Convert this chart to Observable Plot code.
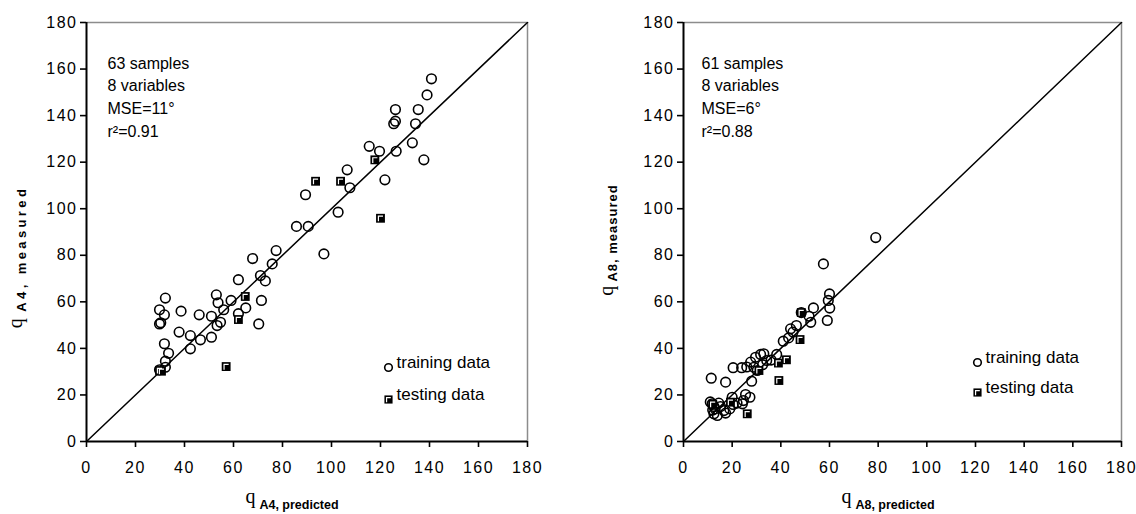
<!DOCTYPE html>
<html>
<head>
<meta charset="utf-8">
<script src="https://cdn.jsdelivr.net/npm/d3@7"></script>
<script src="https://cdn.jsdelivr.net/npm/@observablehq/plot@0.6"></script>
<style>
  html, body { margin: 0; padding: 0; background: #fff; }
  #wrap { display: flex; flex-direction: row; width: 1136px; height: 514px; }
  svg { overflow: visible; }
  svg text { font-family: "Liberation Sans", Arial, sans-serif; fill: #000; }
  g[aria-label="x-axis tick label"] text, g[aria-label="y-axis tick label"] text { letter-spacing: 1.5px; }
  g[aria-label="annotation"] text { letter-spacing: 1.2px; }
  g[aria-label="legend-text"] text { letter-spacing: 0.8px; }
</style>
</head>
<body>
<div id="wrap"></div>
<script>
// ---- data ----
const xTicks = [0, 20, 40, 60, 80, 100, 120, 140, 160, 180];
const yTicks = [0, 20, 40, 60, 80, 100, 120, 140, 160, 180];
const identityLine = [0, 180];

// Left panel (A4): training data
const a4TrainPred = [32.2, 29.8, 31.8, 29.8, 30.3, 38.6, 46.0, 37.8, 42.4, 42.4, 46.5, 51.0, 51.0, 53.0, 53.7, 56.0, 53.3, 54.7, 59.0, 62.0, 62.0, 65.0, 71.0, 73.0, 71.4, 70.3, 31.8, 33.5, 32.2, 32.2, 29.8, 67.8, 75.8, 77.4, 96.9, 85.7, 90.5, 89.4, 102.7, 107.5, 121.8, 106.4, 115.4, 119.6, 126.4, 133.0, 137.7, 126.1, 125.4, 134.3, 126.1, 135.4, 139.0, 140.8];
const a4TrainMeas = [61.6, 56.6, 54.4, 50.5, 51.0, 56.0, 54.4, 47.0, 45.5, 39.8, 43.7, 44.8, 53.8, 63.0, 59.6, 56.6, 49.8, 51.2, 60.6, 69.5, 54.9, 57.4, 71.3, 69.0, 60.6, 50.5, 42.0, 37.9, 34.5, 31.9, 30.8, 78.6, 76.3, 82.0, 80.6, 92.4, 92.4, 106.0, 98.5, 109.0, 112.4, 116.7, 126.8, 124.7, 124.7, 128.3, 121.0, 137.6, 136.5, 136.5, 142.6, 142.6, 148.9, 155.8];
// Left panel (A4): testing data
const a4TestPred = [29.8, 30.6, 57.0, 62.0, 64.8, 93.5, 103.7, 117.7, 120.0];
const a4TestMeas = [30.5, 30.2, 32.2, 52.4, 62.3, 111.8, 111.8, 121.0, 95.9];

// Right panel (A8): training data
const a8TrainPred = [57.5, 60.0, 59.5, 60.1, 59.1, 53.4, 52.3, 51.6, 46.4, 44.0, 43.2, 41.0, 38.3, 33.0, 31.7, 29.6, 34.2, 27.6, 28.9, 30.3, 28.0, 23.9, 20.4, 11.4, 17.3, 20.0, 25.5, 27.3, 24.6, 24.2, 20.4, 11.8, 12.5, 15.2, 16.6, 17.3, 13.9, 12.5, 11.0, 79.0, 48.4, 36.0, 45.0, 32.5, 26.0, 13.0, 14.5, 19.0, 22.0, 12.0];
const a8TrainMeas = [76.3, 63.4, 60.6, 57.3, 52.0, 57.4, 51.2, 53.8, 49.8, 48.4, 44.5, 43.1, 37.4, 37.7, 37.4, 36.2, 34.8, 34.1, 31.9, 30.5, 25.9, 31.7, 31.7, 27.2, 25.5, 19.0, 20.2, 19.0, 17.6, 16.2, 15.9, 16.2, 15.0, 15.0, 13.3, 12.2, 11.2, 11.9, 17.0, 87.6, 55.4, 35.0, 47.0, 33.0, 32.0, 14.0, 16.5, 14.0, 16.5, 13.5];
// Right panel (A8): testing data
const a8TestPred = [48.4, 47.9, 42.3, 39.0, 39.2, 26.2, 19.3, 31.0, 12.0];
const a8TestMeas = [55.4, 43.8, 35.1, 33.7, 26.2, 11.9, 16.9, 30.5, 16.0];

const panels = [
  {sub: "A4", stats: ["63 samples", "8 variables", "MSE=11°", "r²=0.91"],
   trainX: a4TrainPred, trainY: a4TrainMeas, testX: a4TestPred, testY: a4TestMeas},
  {sub: "A8", stats: ["61 samples", "8 variables", "MSE=6°", "r²=0.88"],
   trainX: a8TrainPred, trainY: a8TrainMeas, testX: a8TestPred, testY: a8TestMeas}
];

// ---- layout (pixels) ----
const layouts = [
  {width: 568, marginLeft: 86, marginRight: 41, statsDx: 21, legDx: -139, legDy1: -74, legDy2: -42, yLabX: 22, yLabY: 257, yLabSpacing: 3.4, xLabX: 292},
  {width: 568, marginLeft: 115, marginRight: 15, statsDx: 18, legDx: -144, legDy1: -79, legDy2: -49, yLabX: 613, yLabY: 240, yLabSpacing: 1.0, xLabX: 888}
];

// custom symbol: white corner mark inside the black square
const cornerMark = {
  draw(context, size) {
    const r = Math.sqrt(size / Math.PI);
    context.moveTo(-0.42 * r, 0.62 * r);
    context.lineTo(-0.42 * r, -0.42 * r);
    context.lineTo(0.5 * r, -0.42 * r);
  }
};

const wrap = document.getElementById("wrap");

panels.forEach((p, i) => {
  const L = layouts[i];
  const train = p.trainX.map((x, k) => ({x, y: p.trainY[k]}));
  const test = p.testX.map((x, k) => ({x, y: p.testY[k]}));
  const chart = Plot.plot({
    width: L.width,
    height: 514,
    marginLeft: L.marginLeft,
    marginRight: L.marginRight,
    marginTop: 22,
    marginBottom: 73,
    style: {fontFamily: "Liberation Sans, Arial, sans-serif", fontSize: "16px", color: "#000", background: "#fff", overflow: "visible"},
    x: {domain: [0, 180], label: null},
    y: {domain: [0, 180], label: null},
    marks: [
      Plot.ruleY([180], {stroke: "#8c8c8c", strokeWidth: 1.5}),
      Plot.ruleX([180], {stroke: "#8c8c8c", strokeWidth: 1.5}),
      Plot.axisX({ticks: xTicks, tickSize: 6, tickPadding: 14, fontSize: 16, strokeWidth: 1.6, label: null}),
      Plot.axisY({ticks: yTicks, tickSize: 6, tickPadding: 3, fontSize: 16, strokeWidth: 1.6, label: null}),
      Plot.line(identityLine, {x: d => d, y: d => d, stroke: "#000", strokeWidth: 1.5}),
      Plot.ruleX([0], {stroke: "#000", strokeWidth: 2}),
      Plot.ruleY([0], {stroke: "#000", strokeWidth: 2}),
      Plot.dot(train, {x: "x", y: "y", r: 4.8, stroke: "#000", strokeWidth: 1.6, fill: "none"}),
      Plot.dot(test, {x: "x", y: "y", r: 5, symbol: "square", fill: "#000", stroke: "none"}),
      Plot.dot(test, {x: "x", y: "y", r: 5, symbol: cornerMark, stroke: "#fff", strokeWidth: 1.2, fill: "none"}),
      Plot.text([p.stats.join("\n")], {frameAnchor: "top-left", textAnchor: "start", lineAnchor: "top", dx: L.statsDx, dy: 30, lineHeight: 1.42, fontSize: 16, ariaLabel: "annotation"}),
      // legend
      Plot.dot([0], {frameAnchor: "bottom-right", dx: L.legDx, dy: L.legDy1, r: 3.8, stroke: "#000", strokeWidth: 1.6, fill: "none"}),
      Plot.dot([0], {frameAnchor: "bottom-right", dx: L.legDx, dy: L.legDy2, r: 4.6, symbol: "square", fill: "#000"}),
      Plot.dot([0], {frameAnchor: "bottom-right", dx: L.legDx, dy: L.legDy2, r: 4.6, symbol: cornerMark, stroke: "#fff", strokeWidth: 1.2, fill: "none"}),
      Plot.text(["training data"], {frameAnchor: "bottom-right", textAnchor: "start", dx: L.legDx + 8, dy: L.legDy1, fontSize: 17, ariaLabel: "legend-text"}),
      Plot.text(["testing data"], {frameAnchor: "bottom-right", textAnchor: "start", dx: L.legDx + 8, dy: L.legDy2, fontSize: 17, ariaLabel: "legend-text"})
    ]
  });

  // axis titles: "q" glyph (serif) plus bold subscript text
  const svg = d3.select(chart);
  const yl = svg.append("text")
    .attr("transform", `translate(${i === 0 ? L.yLabX : L.yLabX - 568},${L.yLabY}) rotate(-90)`)
    .attr("text-anchor", "middle");
  yl.append("tspan").attr("font-family", "Liberation Serif, Times New Roman, serif").attr("font-size", 20).text("q");
  yl.append("tspan").attr("font-weight", "bold").attr("font-size", 13).attr("dy", 4)
    .style("letter-spacing", L.yLabSpacing + "px").text(` ${p.sub}, measured`);

  const xl = svg.append("text")
    .attr("transform", `translate(${i === 0 ? L.xLabX : L.xLabX - 568},503)`)
    .attr("text-anchor", "middle");
  xl.append("tspan").attr("font-family", "Liberation Serif, Times New Roman, serif").attr("font-size", 20).text("q");
  xl.append("tspan").attr("font-weight", "bold").attr("font-size", 12.5).attr("dx", 4).attr("dy", 6).text(`${p.sub}, predicted`);

  wrap.appendChild(chart);
});
</script>
</body>
</html>
